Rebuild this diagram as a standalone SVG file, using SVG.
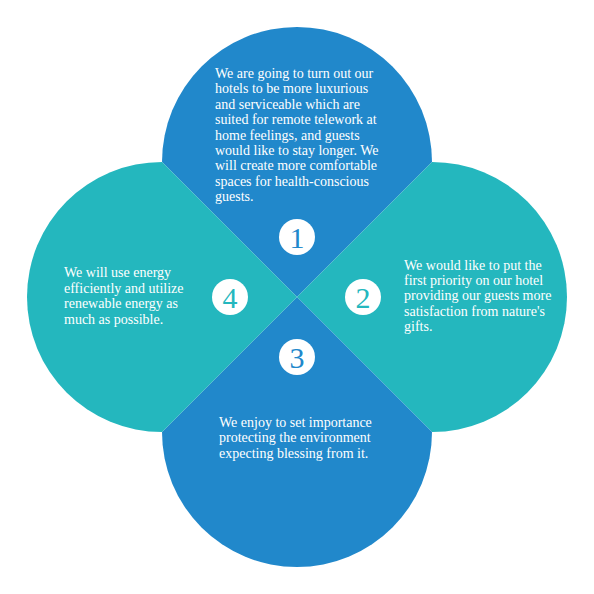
<svg xmlns="http://www.w3.org/2000/svg" width="594" height="594" viewBox="0 0 594 594">
<style>
.blue{fill:#2188cb}
.teal{fill:#24b7be}
.t{font-family:"Liberation Serif","DejaVu Serif",serif;font-size:14px;fill:#ffffff}
.badge{fill:#ffffff}
.num{font-family:"Liberation Serif","DejaVu Serif",serif;font-size:30px;text-anchor:middle}
</style>
<rect width="594" height="594" fill="#ffffff"/>
<g id="node1">
<path class="blue" d="M162,162 A135,135 0 0 1 432,162 L297,297 Z"/>
<text class="t">
<tspan x="215" y="78">We are going to turn out our</tspan>
<tspan x="215" y="93.4">hotels to be more luxurious</tspan>
<tspan x="215" y="108.8">and serviceable which are</tspan>
<tspan x="215" y="124.2">suited for remote telework at</tspan>
<tspan x="215" y="139.6">home feelings, and guests</tspan>
<tspan x="215" y="155">would like to stay longer. We</tspan>
<tspan x="215" y="170.4">will create more comfortable</tspan>
<tspan x="215" y="185.8">spaces for health-conscious</tspan>
<tspan x="215" y="201.2">guests.</tspan>
</text>
<circle class="badge" cx="297" cy="237" r="18"/>
<text class="num" x="297" y="247.5" fill="#2188cb">1</text>
</g>
<g id="node2">
<path class="teal" d="M432,162 A135,135 0 0 1 432,432 L297,297 Z"/>
<text class="t">
<tspan x="404" y="269.5">We would like to put the</tspan>
<tspan x="404" y="284.9">first priority on our hotel</tspan>
<tspan x="404" y="300.3">providing our guests more</tspan>
<tspan x="404" y="315.7">satisfaction from nature's</tspan>
<tspan x="404" y="331.1">gifts.</tspan>
</text>
<circle class="badge" cx="363" cy="297" r="18"/>
<text class="num" x="363" y="307.5" fill="#24b7be">2</text>
</g>
<g id="node3">
<path class="blue" d="M432,432 A135,135 0 0 1 162,432 L297,297 Z"/>
<text class="t">
<tspan x="219" y="427">We enjoy to set importance</tspan>
<tspan x="219" y="442.4">protecting the environment</tspan>
<tspan x="219" y="457.8">expecting blessing from it.</tspan>
</text>
<circle class="badge" cx="297" cy="357" r="18"/>
<text class="num" x="297" y="367.5" fill="#2188cb">3</text>
</g>
<g id="node4">
<path class="teal" d="M162,432 A135,135 0 0 1 162,162 L297,297 Z"/>
<text class="t">
<tspan x="64" y="277">We will use energy</tspan>
<tspan x="64" y="292.6">efficiently and utilize</tspan>
<tspan x="64" y="308.2">renewable energy as</tspan>
<tspan x="64" y="323.8">much as possible.</tspan>
</text>
<circle class="badge" cx="230" cy="297" r="18"/>
<text class="num" x="230" y="307.5" fill="#24b7be">4</text>
</g>
<g id="connectors"></g>
</svg>
